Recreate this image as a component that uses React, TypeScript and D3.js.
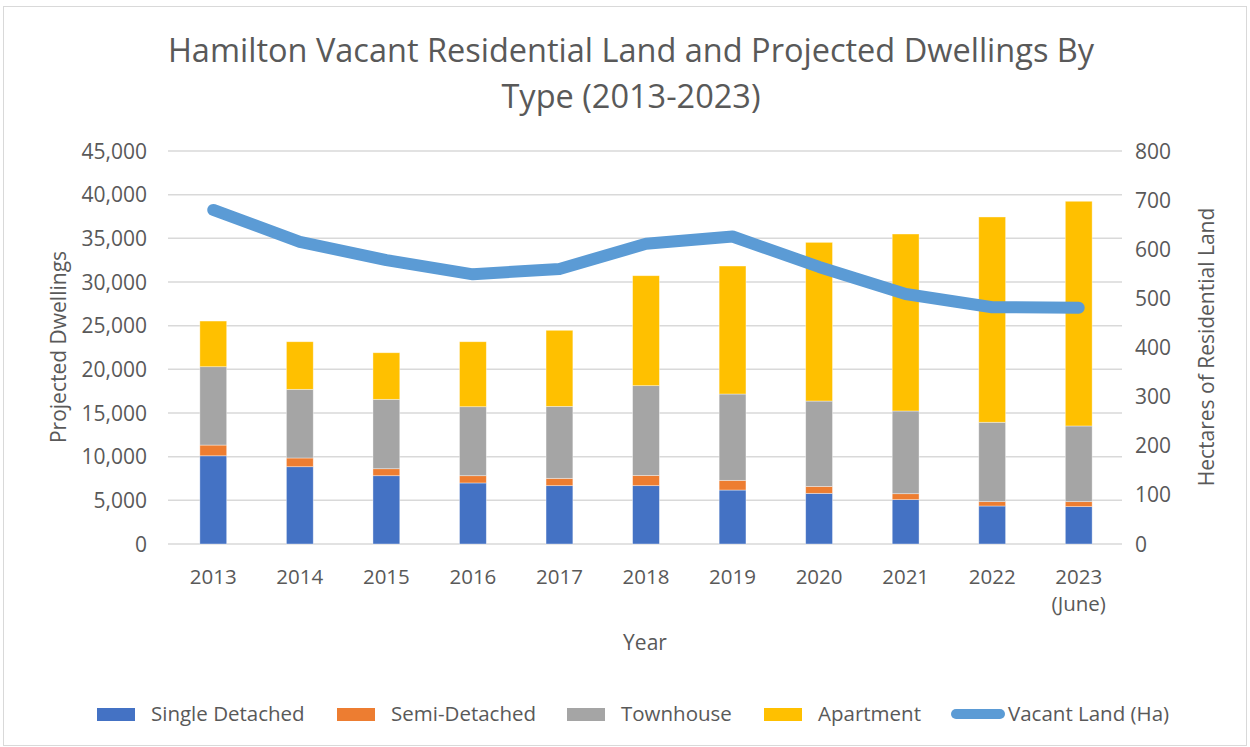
import React from "react";
import * as d3 from "d3";

const years = ["2013", "2014", "2015", "2016", "2017", "2018", "2019", "2020", "2021", "2022", "2023"];
const yearSub = ["", "", "", "", "", "", "", "", "", "", "(June)"];
const singleDetached = [10100, 8850, 7820, 6990, 6680, 6680, 6180, 5800, 5080, 4350, 4280];
const semiDetached = [1230, 1000, 800, 830, 840, 1180, 1110, 800, 680, 500, 570];
const townhouse = [8970, 7860, 7945, 7900, 8240, 10270, 9885, 9770, 9470, 9090, 8665];
const apartment = [5230, 5450, 5335, 7440, 8710, 12590, 14655, 18170, 20265, 23505, 25730];
const vacantLand = [680, 615, 578, 549, 560, 611, 626, 564, 509, 482, 481];

const seriesNames = ["Single Detached", "Semi-Detached", "Townhouse", "Apartment"];
const seriesColors = ["#4472C4", "#ED7D31", "#A5A5A5", "#FFC000"];
const lineName = "Vacant Land (Ha)";
const lineColor = "#5B9BD5";
const leftTicks = [0, 5000, 10000, 15000, 20000, 25000, 30000, 35000, 40000, 45000];
const rightTicks = [0, 100, 200, 300, 400, 500, 600, 700, 800];

const FONT = "'Open Sans', 'Liberation Sans', sans-serif";
const TXT = "#595959";

export default function App() {
  const W = 1250, H = 747;
  const left = 170, right = 1122, top = 151, bottom = 544;

  const x = d3.scaleBand<string>().domain(years).range([left, right]).paddingInner(0.69).paddingOuter(0.345);
  const yL = d3.scaleLinear().domain([0, 45000]).range([bottom, top]);
  const yR = d3.scaleLinear().domain([0, 800]).range([bottom, top]);

  const rows = years.map((yr, i) => ({
    year: yr,
    s0: singleDetached[i],
    s1: semiDetached[i],
    s2: townhouse[i],
    s3: apartment[i],
  }));
  const stack = d3.stack<any>().keys(["s0", "s1", "s2", "s3"]);
  const stacked = stack(rows);

  const line = d3
    .line<number>()
    .x((_, i) => (x(years[i]) as number) + x.bandwidth() / 2)
    .y((d) => yR(d));

  const fmt = d3.format(",");

  const legendItems = [
    { name: seriesNames[0], color: seriesColors[0], sx: 97, tx: 151 },
    { name: seriesNames[1], color: seriesColors[1], sx: 337, tx: 391 },
    { name: seriesNames[2], color: seriesColors[2], sx: 567, tx: 621 },
    { name: seriesNames[3], color: seriesColors[3], sx: 764, tx: 818 },
  ];

  return (
    <svg width={W} height={H} style={{ display: "block", position: "absolute", left: 0, top: 0 }} fontFamily={FONT}>
      <rect x={0} y={0} width={W} height={H} fill="#fff" />
      <rect x={3.5} y={6.5} width={1243} height={739} fill="#fff" stroke="#D9D9D9" strokeWidth={1} />
      <text x={631} y={62} textAnchor="middle" fontSize={32.5} fill={TXT}>
        Hamilton Vacant Residential Land and Projected Dwellings By
      </text>
      <text x={631} y={108} textAnchor="middle" fontSize={32.5} fill={TXT}>
        Type (2013-2023)
      </text>

      {leftTicks.map((t) => (
        <line key={"g" + t} x1={left - 2} x2={right} y1={yL(t)} y2={yL(t)} stroke="#D9D9D9" strokeWidth={1.5} />
      ))}
      {leftTicks.map((t) => (
        <text key={"l" + t} x={147} y={yL(t) + 7.5} textAnchor="end" fontSize={21} fill={TXT}>
          {fmt(t)}
        </text>
      ))}
      {rightTicks.map((t) => (
        <text key={"r" + t} x={1135} y={yR(t) + 7.5} textAnchor="start" fontSize={21} fill={TXT}>
          {t}
        </text>
      ))}

      {stacked.map((s, si) => (
        <g key={si} fill={seriesColors[si]}>
          {s.map((d, i) => (
            <rect
              key={i}
              x={x(years[i])}
              y={yL(d[1])}
              width={x.bandwidth()}
              height={yL(d[0]) - yL(d[1])}
              stroke="#fff"
              strokeOpacity={0.5}
              strokeWidth={0.75}
            />
          ))}
        </g>
      ))}

      <path d={line(vacantLand) || ""} fill="none" stroke={lineColor} strokeWidth={12} strokeLinejoin="round" strokeLinecap="round" />

      {years.map((yr, i) => (
        <g key={"x" + yr}>
          <text x={(x(yr) as number) + x.bandwidth() / 2} y={584} textAnchor="middle" fontSize={20.5} fill={TXT}>
            {yr}
          </text>
          {yearSub[i] && (
            <text x={(x(yr) as number) + x.bandwidth() / 2} y={611} textAnchor="middle" fontSize={20.5} fill={TXT}>
              {yearSub[i]}
            </text>
          )}
        </g>
      ))}

      <text x={645} y={650} textAnchor="middle" fontSize={21} fill={TXT}>
        Year
      </text>
      <text transform="translate(66,347) rotate(-90)" textAnchor="middle" fontSize={21} fill={TXT}>
        Projected Dwellings
      </text>
      <text transform="translate(1214,347) rotate(-90)" textAnchor="middle" fontSize={21} fill={TXT}>
        Hectares of Residential Land
      </text>

      {legendItems.map((it) => (
        <g key={it.name}>
          <rect x={it.sx} y={708} width={38} height={13} fill={it.color} />
          <text x={it.tx} y={721} fontSize={20.5} fill={TXT}>
            {it.name}
          </text>
        </g>
      ))}
      <line x1={956} x2={1000} y1={714} y2={714} stroke={lineColor} strokeWidth={10} strokeLinecap="round" />
      <text x={1008} y={721} fontSize={20.5} fill={TXT}>
        {lineName}
      </text>
    </svg>
  );
}
